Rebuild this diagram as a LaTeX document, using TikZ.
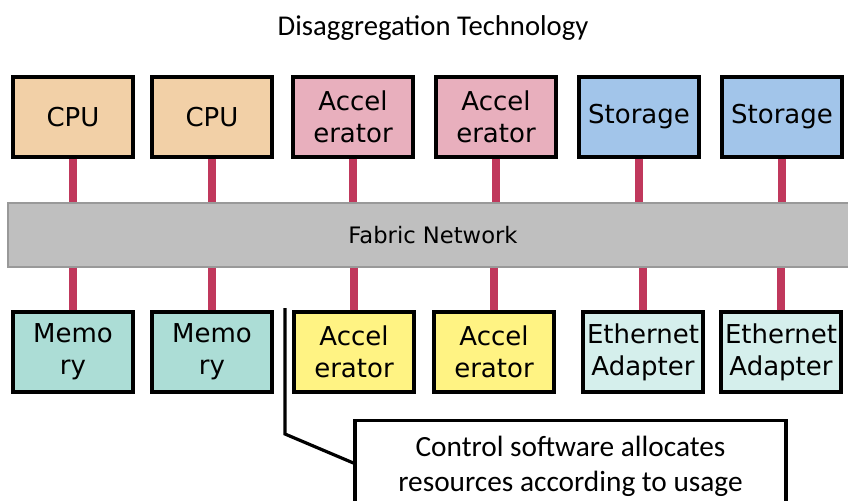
\documentclass[tikz,border=0pt]{standalone}
\usepackage{fontspec}
\setmainfont{DejaVu Sans}
\newfontfamily\calibrifont{Carlito}
\usepackage{tikz}
\usetikzlibrary{positioning,calc}
\definecolor{cpufill}{HTML}{F2D0A7}
\definecolor{accelpink}{HTML}{E8AFBD}
\definecolor{storfill}{HTML}{A2C5EA}
\definecolor{memfill}{HTML}{ACDDD6}
\definecolor{accelyellow}{HTML}{FFF383}
\definecolor{ethfill}{HTML}{D5EFEC}
\definecolor{fabricgray}{HTML}{BFBFBF}
\definecolor{linkred}{HTML}{C0385C}

\begin{document}
\begin{tikzpicture}[
  x=0.75pt, y=-0.75pt,
  unit/.style={
    rectangle,
    draw=black,
    line width=2.6pt,
    minimum width=90pt,
    minimum height=60pt,
    inner sep=0pt,
    align=center,
    font=\fontsize{19.5}{24}\selectfont
  },
  fabric/.style={
    rectangle,
    draw=fabricgray!80!black,
    line width=0.8pt,
    fill=fabricgray,
    minimum width=637.5pt,
    minimum height=48pt,
    font=\fontsize{17}{20}\selectfont
  },
  link/.style={draw=linkred, line width=6pt},
  callout/.style={draw=black, line width=2.4pt},
  note/.style={font=\calibrifont\fontsize{22}{26}\selectfont, align=center}
]
\useasboundingbox (0,0) rectangle (848,500);
\clip (0,0) rectangle (848,500);

\node[font=\calibrifont\fontsize{21.5}{24}\selectfont] (title) at (433,28) {Disaggregation Technology};

% pooled resources above the fabric
\node[unit, fill=cpufill] (cpuA) at (73,117) {CPU};
\node[unit, fill=cpufill] (cpuB) at (212,117) {CPU};
\node[unit, fill=accelpink] (accA) at (353,117) {Accel\\erator};
\node[unit, fill=accelpink] (accB) at (496,117) {Accel\\erator};
\node[unit, fill=storfill] (stoA) at (639,117) {Storage};
\node[unit, fill=storfill] (stoB) at (782,117) {Storage};

\node[fabric] (fabric) at (433,235) {Fabric Network};

% pooled resources below the fabric
\node[unit, fill=memfill] (memA) at (73,352) {Memo\\ry};
\node[unit, fill=memfill] (memB) at (212,352) {Memo\\ry};
\node[unit, fill=accelyellow] (accC) at (354,352) {Accel\\erator};
\node[unit, fill=accelyellow] (accD) at (494,352) {Accel\\erator};
\node[unit, fill=ethfill] (ethA) at (643,352) {Ethernet\\Adapter};
\node[unit, fill=ethfill] (ethB) at (781,352) {Ethernet\\Adapter};

\foreach \u in {cpuA,cpuB,accA,accB,stoA,stoB} {
  \draw[link] (\u.south) -- (\u.south |- fabric.north);
}
\foreach \u in {memA,memB,accC,accD,ethA,ethB} {
  \draw[link] (\u.north) -- (\u.north |- fabric.south);
}

% control software callout
\node[callout, rectangle, minimum width=323.25pt, minimum height=75pt, anchor=north] (ctrl) at (570.5,419) {};
\node[note] (ctrltext) at (570.5,466) {Control software allocates\\resources according to usage};
\coordinate (calltop) at (285,308);
\coordinate (callbend) at (285,434);
\draw[callout] (calltop) -- (callbend) -- ($(ctrl.north west)+(0,44)$);

\end{tikzpicture}
\end{document}
